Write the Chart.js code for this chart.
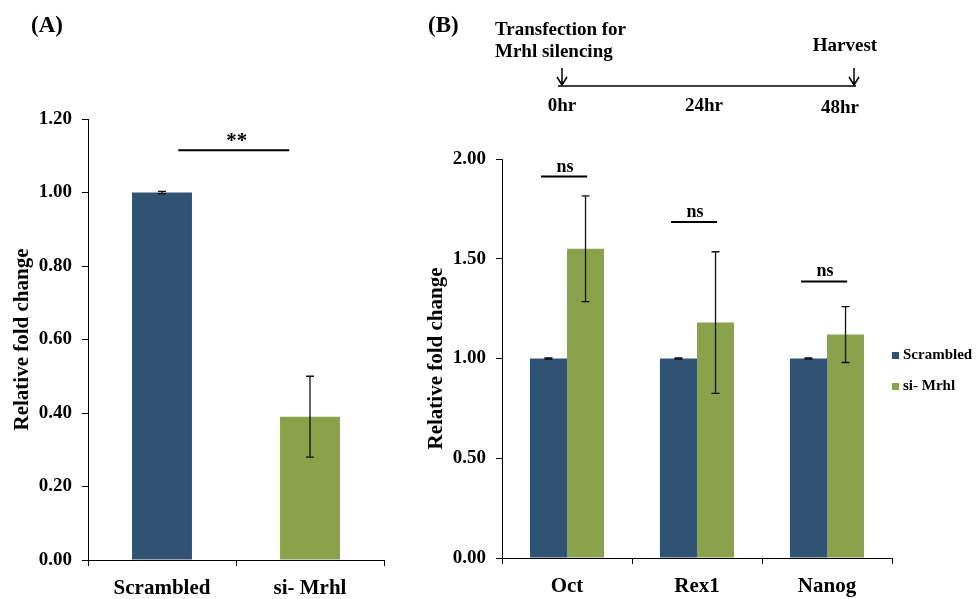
<!DOCTYPE html>
<html>
<head>
<meta charset="utf-8">
<title>Mrhl silencing</title>
<script src="https://cdn.jsdelivr.net/npm/chart.js@4.4.1/dist/chart.umd.min.js"></script>
<style>
  html, body { margin: 0; padding: 0; background: #fff; }
  #page { position: relative; width: 979px; height: 599px; overflow: hidden; }
  #chartA { position: absolute; left: 0; top: 0; }
  #chartB { position: absolute; left: 400px; top: 0; }
  #timeline { position: absolute; left: 0; top: 0; }
  #timeline text { font-family: "Liberation Serif", "Times New Roman", serif; font-weight: bold; fill: #000; }
</style>
</head>
<body>
<div id="page">
  <canvas id="chartA" width="400" height="599"></canvas>
  <canvas id="chartB" width="579" height="599"></canvas>
  <svg id="timeline" width="979" height="130">
    <text x="31" y="32" font-size="23">(A)</text>
    <text x="428" y="32" font-size="23">(B)</text>
    <text x="495" y="35" font-size="19">Transfection for</text>
    <text x="495" y="57" font-size="19">Mrhl silencing</text>
    <text x="845" y="51" font-size="19" text-anchor="middle">Harvest</text>
    <line x1="558" y1="86" x2="856" y2="86" stroke="#000" stroke-width="1.5"/>
    <g stroke="#000" stroke-width="1.5" fill="none">
      <path d="M562 68 V85 M557 77 L562 85 L567 77"/>
      <path d="M854 68 V85 M849 77 L854 85 L859 77"/>
    </g>
    <text x="562" y="111" font-size="19" text-anchor="middle">0hr</text>
    <text x="704" y="111" font-size="19" text-anchor="middle">24hr</text>
    <text x="840" y="113" font-size="19" text-anchor="middle">48hr</text>
  </svg>
</div>
<script>
// Panel A: Mrhl knockdown
const groupsA = ['Scrambled', 'si- Mrhl'];
const foldA = [1.00, 0.39];
const errA = [0.003, 0.11];
const sigStartA = [0.11];
const sigEndA = [0.86];
const sigLevelA = [1.115];
const sigTextA = ['**'];

// Panel B: pluripotency markers
const genes = ['Oct', 'Rex1', 'Nanog'];
const scrambled = [1.00, 1.00, 1.00];
const scrambledErr = [0.003, 0.003, 0.003];
const siMrhl = [1.55, 1.18, 1.12];
const siMrhlErr = [0.265, 0.355, 0.14];
const nsLevel = [1.912, 1.684, 1.386];
const nsText = ['ns', 'ns', 'ns'];

const BLUE = '#305273';
const GREEN = '#8AA24C';
const SERIF = '"Liberation Serif", "Times New Roman", serif';

Chart.defaults.font.family = SERIF;
Chart.defaults.font.weight = 'bold';
Chart.defaults.color = '#000';

// error bars read from dataset.errors
const errorBars = {
  id: 'errorBars',
  afterDatasetsDraw(chart) {
    const { ctx } = chart;
    const y = chart.scales.y;
    ctx.save();
    ctx.strokeStyle = '#111';
    ctx.lineWidth = 1.3;
    chart.data.datasets.forEach((ds, i) => {
      chart.getDatasetMeta(i).data.forEach((bar, j) => {
        const v = ds.data[j], e = ds.errors[j];
        const top = y.getPixelForValue(v + e), bot = y.getPixelForValue(v - e);
        ctx.beginPath();
        ctx.moveTo(bar.x, top); ctx.lineTo(bar.x, bot);
        ctx.moveTo(bar.x - 4, top); ctx.lineTo(bar.x + 4, top);
        ctx.moveTo(bar.x - 4, bot); ctx.lineTo(bar.x + 4, bot);
        ctx.stroke();
      });
    });
    ctx.restore();
  }
};

// significance lines with a label on top
const sigBars = {
  id: 'sigBars',
  afterDatasetsDraw(chart, args, opts) {
    const { ctx, scales: { x, y } } = chart;
    ctx.save();
    ctx.strokeStyle = '#000';
    ctx.fillStyle = '#000';
    ctx.lineWidth = 2;
    ctx.font = `bold ${opts.size}px ${SERIF}`;
    ctx.textAlign = 'center';
    ctx.textBaseline = 'alphabetic';
    opts.level.forEach((lv, i) => {
      const x0 = x.getPixelForValue(opts.start[i]);
      const x1 = x.getPixelForValue(opts.end[i]);
      const yy = y.getPixelForValue(lv);
      ctx.beginPath();
      ctx.moveTo(x0, yy); ctx.lineTo(x1, yy);
      ctx.stroke();
      ctx.fillText(opts.text[i], (x0 + x1) / 2 + opts.dx, yy - opts.gap);
    });
    ctx.restore();
  }
};

// small legend hugging the right end of the x axis
const sideLegend = {
  id: 'sideLegend',
  afterDraw(chart) {
    const { ctx, chartArea } = chart;
    const mid = (chartArea.top + chartArea.bottom) / 2;
    ctx.save();
    ctx.font = `bold 15px ${SERIF}`;
    ctx.textBaseline = 'middle';
    chart.data.datasets.forEach((ds, i) => {
      const yy = mid - 3 + i * 31;
      ctx.fillStyle = ds.backgroundColor;
      ctx.fillRect(chartArea.right, yy - 3.5, 7, 7);
      ctx.fillStyle = '#000';
      ctx.fillText(ds.label, chartArea.right + 11, yy);
    });
    ctx.restore();
  }
};

function axes(yMax, yStep, yWidth, xHeight) {
  return {
    x: {
      grid: { offset: true, drawOnChartArea: false, tickLength: 6, color: '#000' },
      border: { color: '#000', width: 1 },
      ticks: { color: '#000', font: { size: 21, weight: 'bold' }, padding: 10 },
      afterFit: s => { s.height = xHeight; },
    },
    y: {
      min: 0,
      max: yMax,
      grid: { drawOnChartArea: false, tickLength: 6, color: '#000' },
      border: { color: '#000', width: 1 },
      ticks: {
        stepSize: yStep,
        color: '#000',
        font: { size: 19, weight: 'bold' },
        padding: 10,
        callback: v => Number(v).toFixed(2),
      },
      title: {
        display: true,
        text: 'Relative fold change',
        color: '#000',
        font: { size: 21, weight: 'bold' },
        padding: 0,
      },
      afterFit: s => { s.width = yWidth; },
    },
  };
}

new Chart(document.getElementById('chartA'), {
  type: 'bar',
  data: {
    labels: groupsA,
    datasets: [{
      label: 'Relative fold change',
      data: foldA,
      errors: errA,
      backgroundColor: [BLUE, GREEN],
      barPercentage: 0.405,
      categoryPercentage: 1,
    }],
  },
  options: {
    responsive: false,
    animation: false,
    layout: { padding: { top: 119, left: 10, right: 16, bottom: 0 } },
    plugins: {
      legend: { display: false },
      tooltip: { enabled: false },
      sigBars: { start: sigStartA, end: sigEndA, level: sigLevelA, text: sigTextA, size: 21, dx: 3, gap: 3 },
    },
    scales: axes(1.2, 0.2, 78, 39),
  },
  plugins: [errorBars, sigBars],
});

new Chart(document.getElementById('chartB'), {
  type: 'bar',
  data: {
    labels: genes,
    datasets: [
      { label: 'Scrambled', data: scrambled, errors: scrambledErr, backgroundColor: BLUE,
        barPercentage: 1, categoryPercentage: 0.57 },
      { label: 'si- Mrhl', data: siMrhl, errors: siMrhlErr, backgroundColor: GREEN,
        barPercentage: 1, categoryPercentage: 0.57 },
    ],
  },
  options: {
    responsive: false,
    animation: false,
    layout: { padding: { top: 159, left: 24, right: 87, bottom: 0 } },
    plugins: {
      legend: { display: false },
      tooltip: { enabled: false },
      sigBars: {
        start: genes.map((g, i) => i - 0.2),
        end: genes.map((g, i) => i + 0.155),
        level: nsLevel, text: nsText, size: 18, dx: 1, gap: 5,
      },
    },
    scales: axes(2, 0.5, 78, 41),
  },
  plugins: [errorBars, sigBars, sideLegend],
});
</script>
</body>
</html>
